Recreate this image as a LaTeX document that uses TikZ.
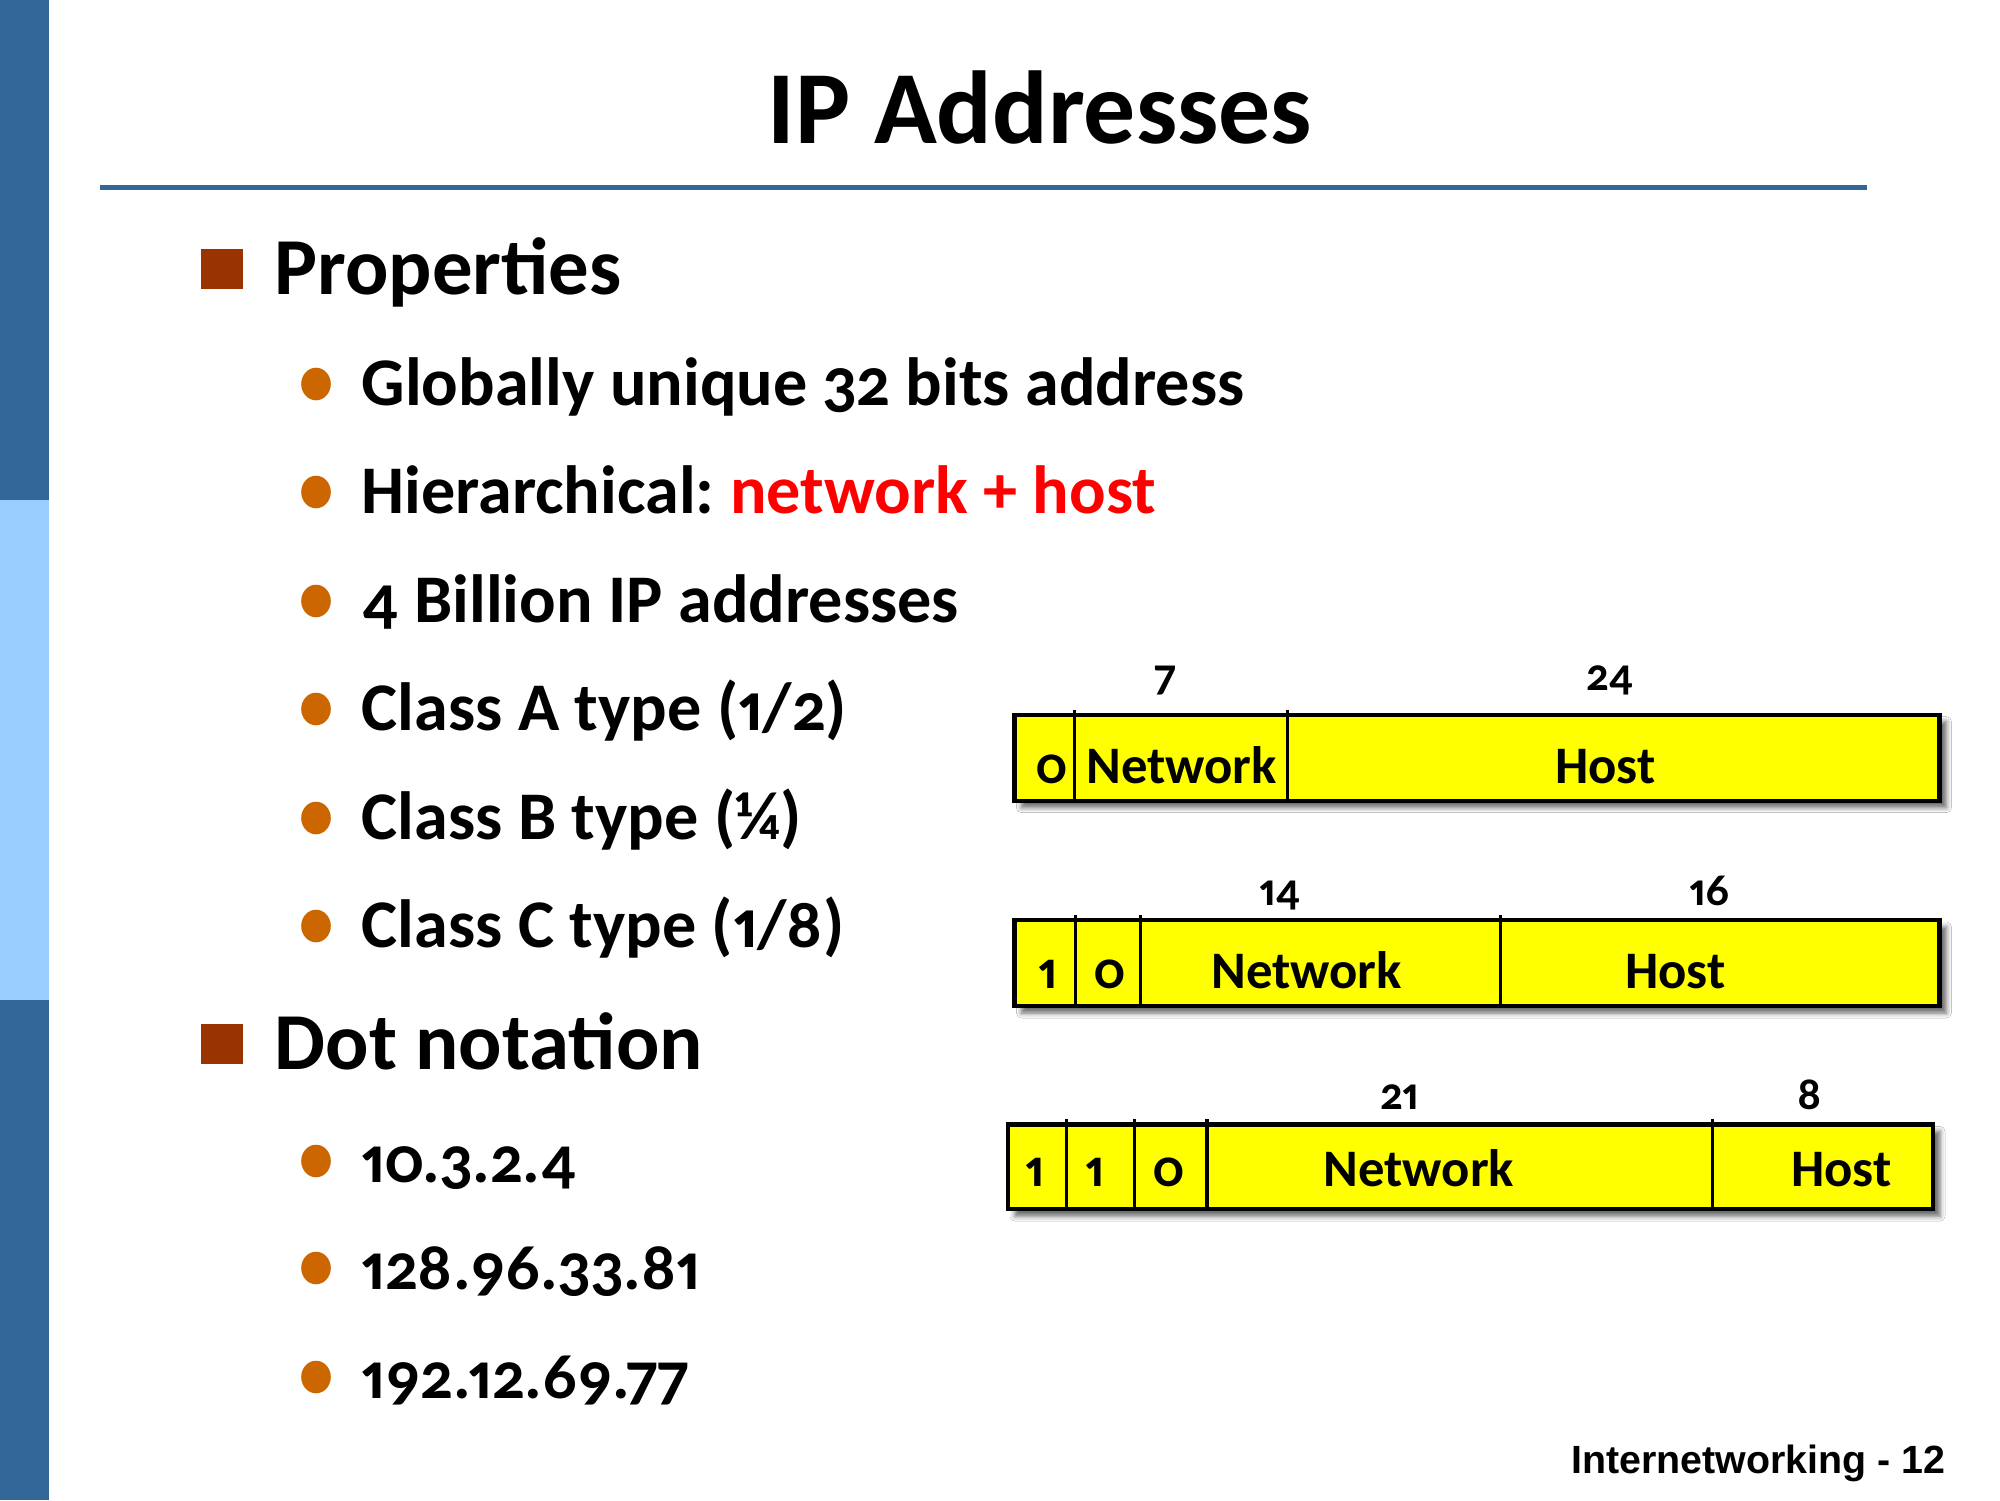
\documentclass[tikz,border=0pt]{standalone}
\usepackage{fontspec}
\setmainfont{Carlito}[Numbers={OldStyle,Proportional}]
\newfontfamily\footerfont{Liberation Sans}
\usepackage{tikz}
\usetikzlibrary{shadows.blur}
\definecolor{slatebar}{HTML}{336699}
\definecolor{skybar}{HTML}{99CCFF}
\definecolor{rustsquare}{HTML}{993300}
\definecolor{amberdot}{HTML}{CC6600}
\definecolor{hotred}{HTML}{FF0000}
\definecolor{fieldyellow}{HTML}{FFFF00}
\tikzset{
  fieldbox/.style={fill=fieldyellow, draw=black, line width=1.2pt,
    blur shadow={shadow xshift=0.07cm, shadow yshift=-0.07cm, shadow blur radius=0.05cm, shadow opacity=60}},
  fieldsep/.style={black, line width=0.9pt},
  fieldtext/.style={anchor=base, inner sep=0pt, font=\fontsize{15}{15}\selectfont\bfseries},
  widthtext/.style={anchor=base, inner sep=0pt, font=\fontsize{13}{13}\selectfont\bfseries},
  headtext/.style={anchor=base west, inner sep=0pt, font=\fontsize{23}{23}\selectfont\bfseries},
  itemtext/.style={anchor=base west, inner sep=0pt, font=\fontsize{19.4}{19.4}\selectfont\bfseries},
  addrtext/.style={anchor=base west, inner sep=0pt, font=\fontsize{18.8}{18.8}\selectfont\bfseries}
}
\frenchspacing
\begin{document}
\begin{tikzpicture}
  % Page frame
  \useasboundingbox (0,0) rectangle (20,-15);
  \fill[white] (0,0) rectangle (20,-15);

  % Left side bar
  \fill[slatebar] (0,0) rectangle (0.485,-5);
  \fill[skybar] (0,-5) rectangle (0.485,-10);
  \fill[slatebar] (0,-10) rectangle (0.485,-15);

  % Title and rule
  \node[anchor=base, inner sep=0pt, font=\fontsize{29.5}{29.5}\selectfont\bfseries] (title) at (10.40,-1.43) {IP Addresses};
  \draw[slatebar, line width=1.2pt] (1.00,-1.875) -- (18.67,-1.875);

  % Section heads with square bullets
  \foreach \y/\name/\txt in {2.69/props/Properties, 10.44/dots/Dot notation} {
    \fill[rustsquare] (2.01,-\y+0.2) rectangle (2.43,-\y-0.2);
    \node[headtext] (\name) at (2.74,-\y-0.255) {\txt};
  }

  % Property items
  \foreach \y/\txt [count=\i] in {3.84/{Globally unique 32 bits address},
      4.92/{Hierarchical: \textcolor{hotred}{network + host}},
      6.01/{4 Billion IP addresses}, 7.09/{Class A type (1/2)},
      8.18/{Class B type (¼)}, 9.26/{Class C type (1/8)}} {
    \fill[amberdot] (3.16,-\y) ellipse (0.148 and 0.163);
    \node[itemtext] (prop\i) at (3.61,-\y-0.21) {\txt};
  }

  % Dot notation items
  \foreach \y/\txt [count=\i] in {11.61/10.3.2.4, 12.68/128.96.33.81, 13.77/192.12.69.77} {
    \fill[amberdot] (3.16,-\y) ellipse (0.148 and 0.163);
    \node[addrtext] (addr\i) at (3.61,-\y-0.21) {\txt};
  }

  % Class A layout
  \begin{scope}[shift={(10.144cm,-7.146cm)}]
    \path[fieldbox] (0,0) rectangle (9.25,-0.86);
    \foreach \x in {0.600, 2.730} {
      \draw[fieldsep] (\x,0.05) -- (\x,-0.86);
    }
    \foreach \x/\txt [count=\i] in {0.370/0, 1.672/Network, 5.908/Host} {
      \node[fieldtext] (afield\i) at (\x,-0.69) {\txt};
    }
    \foreach \x/\txt [count=\i] in {1.505/7, 5.957/24} {
      \node[widthtext] (abits\i) at (\x,0.24) {\txt};
    }
  \end{scope}

  % Class B layout
  \begin{scope}[shift={(10.144cm,-9.200cm)}]
    \path[fieldbox] (0,0) rectangle (9.25,-0.86);
    \foreach \x in {0.612, 1.263, 4.861} {
      \draw[fieldsep] (\x,0.05) -- (\x,-0.86);
    }
    \foreach \x/\txt [count=\i] in {0.331/1, 0.957/0, 2.921/Network, 6.609/Host} {
      \node[fieldtext] (bfield\i) at (\x,-0.68) {\txt};
    }
    \foreach \x/\txt [count=\i] in {2.654/14, 6.954/16} {
      \node[widthtext] (bbits\i) at (\x,0.148) {\txt};
    }
  \end{scope}

  % Class C layout
  \begin{scope}[shift={(10.080cm,-11.244cm)}]
    \path[fieldbox] (0,0) rectangle (9.25,-0.848);
    \foreach \x in {0.587, 1.263, 1.990, 7.043} {
      \draw[fieldsep] (\x,0.05) -- (\x,-0.848);
    }
    \foreach \x/\txt [count=\i] in {0.268/1, 0.868/1, 1.608/0, 4.109/Network, 8.332/Host} {
      \node[fieldtext] (cfield\i) at (\x,-0.62) {\txt};
    }
    \foreach \x/\txt [count=\i] in {3.918/21, 8.014/8} {
      \node[widthtext] (cbits\i) at (\x,0.148) {\txt};
    }
  \end{scope}

  % Footer
  \node[anchor=base east, inner sep=0pt, font=\footerfont\fontsize{11.2}{11.2}\selectfont\bfseries] (footer) at (19.46,-14.73) {Internetworking - 12};
\end{tikzpicture}
\end{document}
